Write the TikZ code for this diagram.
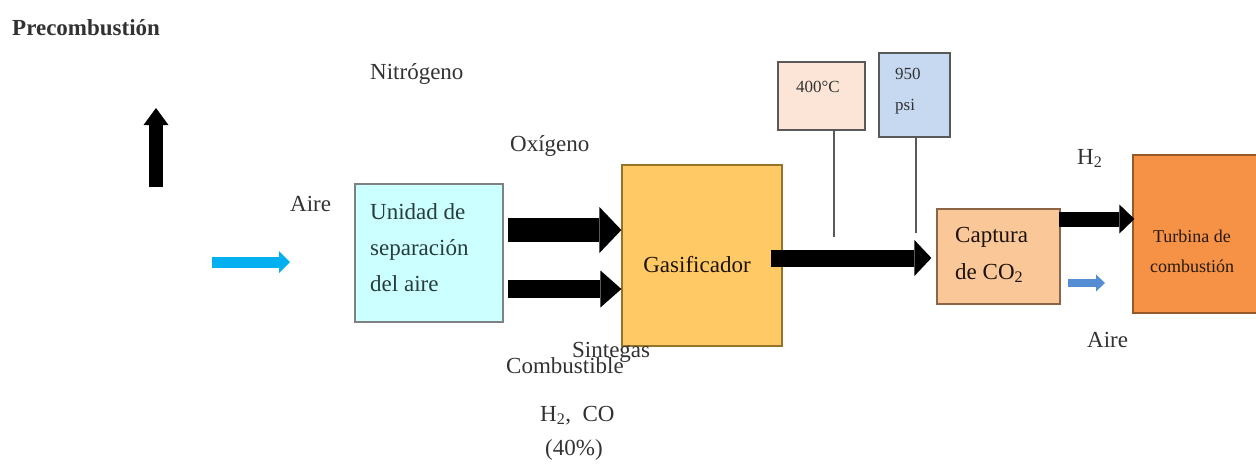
\documentclass[tikz,border=0pt]{standalone}
\usepackage{fontspec}
\setmainfont{Liberation Serif}
\usetikzlibrary{arrows.meta,calc}
\definecolor{txt}{RGB}{50,50,50}
\definecolor{asufill}{RGB}{204,255,255}
\definecolor{asutxt}{RGB}{40,60,60}
\definecolor{gasfill}{RGB}{255,201,102}
\definecolor{gasdraw}{RGB}{150,115,40}
\definecolor{tfill}{RGB}{252,229,214}
\definecolor{pfill}{RGB}{198,217,241}
\definecolor{capfill}{RGB}{250,199,152}
\definecolor{capdraw}{RGB}{140,100,70}
\definecolor{turbfill}{RGB}{246,146,70}
\definecolor{turbdraw}{RGB}{150,90,40}
\definecolor{airblue}{RGB}{0,176,240}
\definecolor{airblue2}{RGB}{84,141,212}
\tikzset{
  lbl/.style={font=\fontsize{23}{28}\selectfont, text=txt, inner sep=0pt},
  sml/.style={font=\fontsize{18}{25}\selectfont, text=txt, inner sep=0pt},
  box/.style={draw, line width=1.2pt, inner sep=0pt},
  blockarrow/.style n args={3}{line width=#1, -{Triangle[width=#2,length=#3,line width=0pt]}},
  thinline/.style={draw=black!65, line width=1.8pt}
}
\begin{document}
\begin{tikzpicture}[x=1pt,y=-1pt]
\useasboundingbox (0,0) rectangle (1256,464);

% title
\node[lbl, font=\fontsize{23}{28}\selectfont\bfseries, anchor=base west] (title) at (12,35) {Precombustión};

% up arrow
\coordinate (upS) at (156,187);
\coordinate (upE) at (156,108);
\draw[blockarrow={14pt}{25pt}{17pt}, black] (upS) -- (upE);

% labels
\node[lbl, anchor=base west] (nitro) at (370,79) {Nitrógeno};
\node[lbl, anchor=base west] (oxi) at (510,151) {Oxígeno};
\node[lbl, anchor=base west] (aire1) at (290,211) {Aire};

% air inlet arrow
\coordinate (airS) at (212,262);
\coordinate (airE) at (290,262);
\draw[blockarrow={11pt}{22pt}{11pt}, airblue] (airS) -- (airE);

% ASU box
\node[box, draw=black!50, fill=asufill, minimum width=148pt, minimum height=138pt] (asu) at (429,253) {};
\node[lbl, anchor=west, align=left, text=asutxt, font=\fontsize{23}{36}\selectfont] (asutxt) at (370,248)
      {Unidad de\\separación\\del aire};

% Gasificador
\node[box, draw=gasdraw, fill=gasfill, minimum width=160pt, minimum height=181pt] (gas) at (702,255.5) {};
\node[lbl, text=black!85!brown] (gastxt) at (697,265) {Gasificador};

% arrows ASU -> gas
\coordinate (y1) at (0,230);
\coordinate (y2) at (0,289);
\draw[blockarrow={24pt}{46pt}{22pt}, black] ($(asu.east |- y1)+(4,0)$) -- (gas.west |- y1);
\draw[blockarrow={18pt}{37pt}{21pt}, black] ($(asu.east |- y2)+(4,0)$) -- (gas.west |- y2);

% temperature and pressure boxes
\node[box, draw=black!65, fill=tfill, minimum width=87pt, minimum height=68pt] (t400) at (821.5,96) {};
\node[sml, font=\fontsize{17}{25}\selectfont] (t400txt) at (818,87) {400°C};
\node[box, draw=black!65, fill=pfill, minimum width=71pt, minimum height=84pt] (p950) at (914.5,95) {};
\node[sml, align=left, anchor=west, font=\fontsize{17}{31}\selectfont] (p950txt) at (895,91) {950\\psi};

\coordinate (l1end) at (834,237);
\coordinate (l2end) at (916,233);
\draw[thinline] (t400.south -| l1end) -- (l1end);
\draw[thinline] (p950.south -| l2end) -- (l2end);

% Captura
\node[box, draw=capdraw, fill=capfill, minimum width=123pt, minimum height=95pt] (capt) at (998.5,256.5) {};
\node[lbl, anchor=west, align=left, text=black!85!brown, font=\fontsize{23}{37}\selectfont] (capttxt) at (955,255)
      {Captura\\de CO\textsubscript{2}};

% gas -> captura arrow
\coordinate (y3) at (0,258);
\draw[blockarrow={17pt}{36pt}{17pt}, black] ($(gas.east |- y3)+(-12,0)$) -- ($(capt.west |- y3)+(-5,0)$);

% Turbina
\node[box, draw=turbdraw, fill=turbfill, minimum width=125pt, minimum height=158pt] (turb) at (1195.5,234) {};
\node[sml, align=center, text=black!80!brown, font=\fontsize{18}{30}\selectfont] (turbtxt) at (1192,251) {Turbina de\\combustión};

% captura -> turbina
\coordinate (y4) at (0,219);
\draw[blockarrow={15pt}{29pt}{15pt}, black] ($(capt.east |- y4)+(-2,0)$) -- ($(turb.west |- y4)+(2,0)$);

\node[lbl, anchor=base west] (h2) at (1077,164) {H\textsubscript{2}};

% small air arrow
\coordinate (air2S) at (1068,283);
\coordinate (air2E) at (1105,283);
\draw[blockarrow={8pt}{17pt}{9pt}, airblue2] (air2S) -- (air2E);
\node[lbl, anchor=base west] (aire2) at (1087,347) {Aire};

% bottom labels
\node[lbl, anchor=base west] (sint) at (572,357) {Sintegas};
\node[lbl, anchor=base west] (comb) at (506,373) {Combustible};
\node[lbl, anchor=base west] (h2co) at (540,421) {H\textsubscript{2}, \ CO};
\node[lbl, anchor=base west] (pct) at (545,455) {(40\%)};
\end{tikzpicture}
\end{document}
